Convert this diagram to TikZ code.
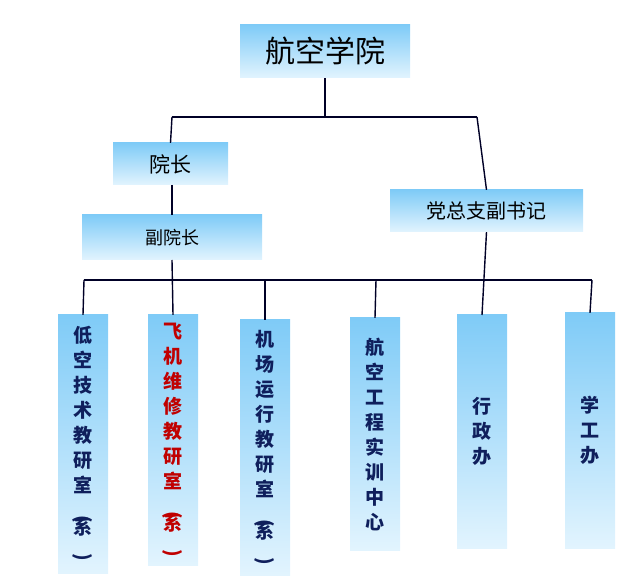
\documentclass[tikz,border=0pt]{standalone}
\usepackage{fontspec}
\newfontfamily\cjk{Noto Sans CJK SC}
\usepackage{graphicx}
\definecolor{navy}{HTML}{0F1F5C}
\definecolor{deepred}{HTML}{C00000}
\definecolor{topblue}{HTML}{7FCBF7}
\definecolor{lowblue}{HTML}{E2F4FE}
\newcommand{\lpar}{\rotatebox{-90}{(}}
\newcommand{\rpar}{\rotatebox{-90}{)}}
\newcommand{\xitail}{\\[-2pt]\lpar\\[-6pt]系\\[-6pt]\rpar}
\begin{document}
\begin{tikzpicture}[x=1pt,y=-1pt]
  \tikzset{box/.style={top color=topblue,bottom color=lowblue,draw=none,inner sep=0pt,
      font=\cjk,text=black},
    col/.style={box,font=\cjk\bfseries\fontsize{19}{25}\selectfont,text=navy,align=center},
    wire/.style={draw=black!85!blue,line width=1.4pt}}
  \useasboundingbox (0,0) rectangle (640,585);

  \node [box,minimum width=170,minimum height=53,font=\cjk\fontsize{30}{34}\selectfont] (xy) at (325,51.5) {航空学院};
  \node [box,minimum width=115,minimum height=42,font=\cjk\fontsize{21}{24}\selectfont] (yz) at (170.5,164) {院长};
  \node [box,minimum width=180,minimum height=45,font=\cjk\fontsize{18}{22}\selectfont] (fyz) at (172,237.5) {副院长};
  \node [box,minimum width=193,minimum height=42,font=\cjk\fontsize{20}{24}\selectfont] (dz) at (486.5,211) {党总支副书记};

  \node [col,minimum width=50,minimum height=258] (c1) at (83,444)
    {低\\空\\技\\术\\教\\研\\室\xitail};
  \node [col,minimum width=50,minimum height=250,text=deepred] (c2) at (173,440)
    {飞\\机\\维\\修\\教\\研\\室\xitail};
  \node [col,minimum width=50,minimum height=255] (c3) at (265,447.5)
    {机\\场\\运\\行\\教\\研\\室\xitail};
  \node [col,minimum width=50,minimum height=232] (c4) at (375,434)
    {航\\空\\工\\程\\实\\训\\中\\心};
  \node [col,minimum width=50,minimum height=233] (c5) at (482,431.5) {行\\政\\办};
  \node [col,minimum width=50,minimum height=235] (c6) at (590,430.5) {学\\工\\办};

  % upper wiring
  \coordinate (j) at (325,117);
  \draw [wire] (xy.south) -- (j);
  \draw [wire] (172,117) -- (477,117);
  \draw [wire] (172,117) -- (yz.north);
  \draw [wire] (477,117) -- (dz.north);
  \draw [wire] (172,185) -- (fyz.north);
  % lower wiring
  \draw [wire] (84,280) -- (592,280);
  \draw [wire] (172,260) -- (c2.north);
  \draw [wire] (84,280) -- (c1.north);
  \draw [wire] (265,280) -- (c3.north);
  \draw [wire] (376,280) -- (c4.north);
  \draw [wire] (dz.south) -- (482,315);
  \draw [wire] (592,280) -- (c6.north);
\end{tikzpicture}
\end{document}
